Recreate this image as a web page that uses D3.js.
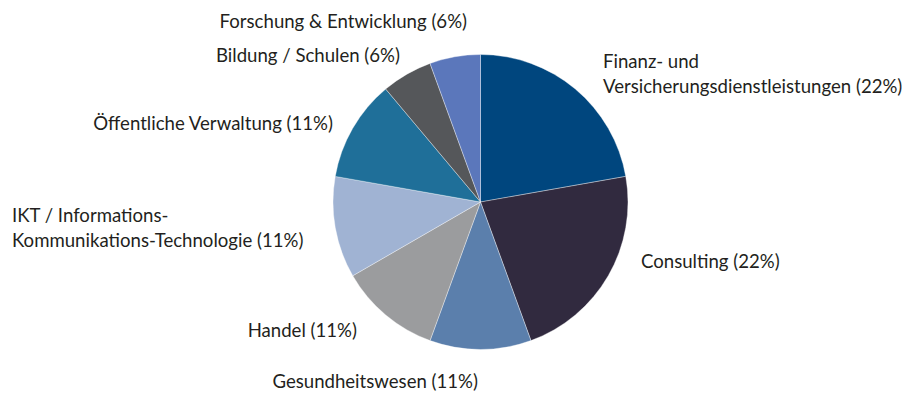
<!DOCTYPE html>
<html>
<head>
<meta charset="utf-8">
<script src="https://cdn.jsdelivr.net/npm/d3@7"></script>
<style>
  html, body { margin: 0; padding: 0; background: #fff; }
  svg { display: block; }
  text { font-family: "Lato", "Open Sans", sans-serif; fill: #231f20; }
</style>
</head>
<body>
<svg id="chart" width="910" height="393"></svg>
<script>
// Branchen (clockwise from 12 o'clock)
const categories = [
  "Finanz- und\nVersicherungsdienstleistungen",
  "Consulting",
  "Gesundheitswesen",
  "Handel",
  "IKT / Informations-\nKommunikations-Technologie",
  "Öffentliche Verwaltung",
  "Bildung / Schulen",
  "Forschung & Entwicklung"
];
const counts = [4, 4, 2, 2, 2, 2, 1, 1];
const percentLabels = ["22%", "22%", "11%", "11%", "11%", "11%", "6%", "6%"];

const colors = ["#00467e", "#312a3f", "#5b7fac", "#9b9c9e", "#a0b3d3", "#1f6f99", "#55575a", "#5b77bb"];

// label anchors: [x, y of first baseline, text-anchor]
const labelLayout = [
  [603, 68, "start"],
  [641, 268, "start"],
  [478, 388, "end"],
  [357, 337, "end"],
  [12, 222, "start"],
  [333, 130, "end"],
  [400, 62, "end"],
  [467, 28, "end"]
];

const svg = d3.select("#chart");
const cx = 480.5, cy = 202, r = 147.5;

const pie = d3.pie().sort(null).value(d => d.value);
const arc = d3.arc().innerRadius(0).outerRadius(r);
const data = categories.map((c, i) => ({ name: c, value: counts[i], pct: percentLabels[i], color: colors[i] }));

const g = svg.append("g").attr("transform", `translate(${cx},${cy})`);
g.selectAll("path")
  .data(pie(data))
  .join("path")
  .attr("d", arc)
  .attr("fill", d => d.data.color)
  .attr("stroke", "#ffffff")
  .attr("stroke-opacity", 0.6)
  .attr("stroke-width", 0.6);

const lineH = 25;
data.forEach((d, i) => {
  const [x, y, anchor] = labelLayout[i];
  const lines = d.name.split("\n");
  lines[lines.length - 1] += ` (${d.pct})`;
  const t = svg.append("text")
    .attr("x", x).attr("y", y)
    .attr("text-anchor", anchor)
    .style("font-size", "18.6px");
  lines.forEach((ln, k) => {
    t.append("tspan").attr("x", x).attr("dy", k === 0 ? 0 : lineH).text(ln);
  });
});
</script>
</body>
</html>
